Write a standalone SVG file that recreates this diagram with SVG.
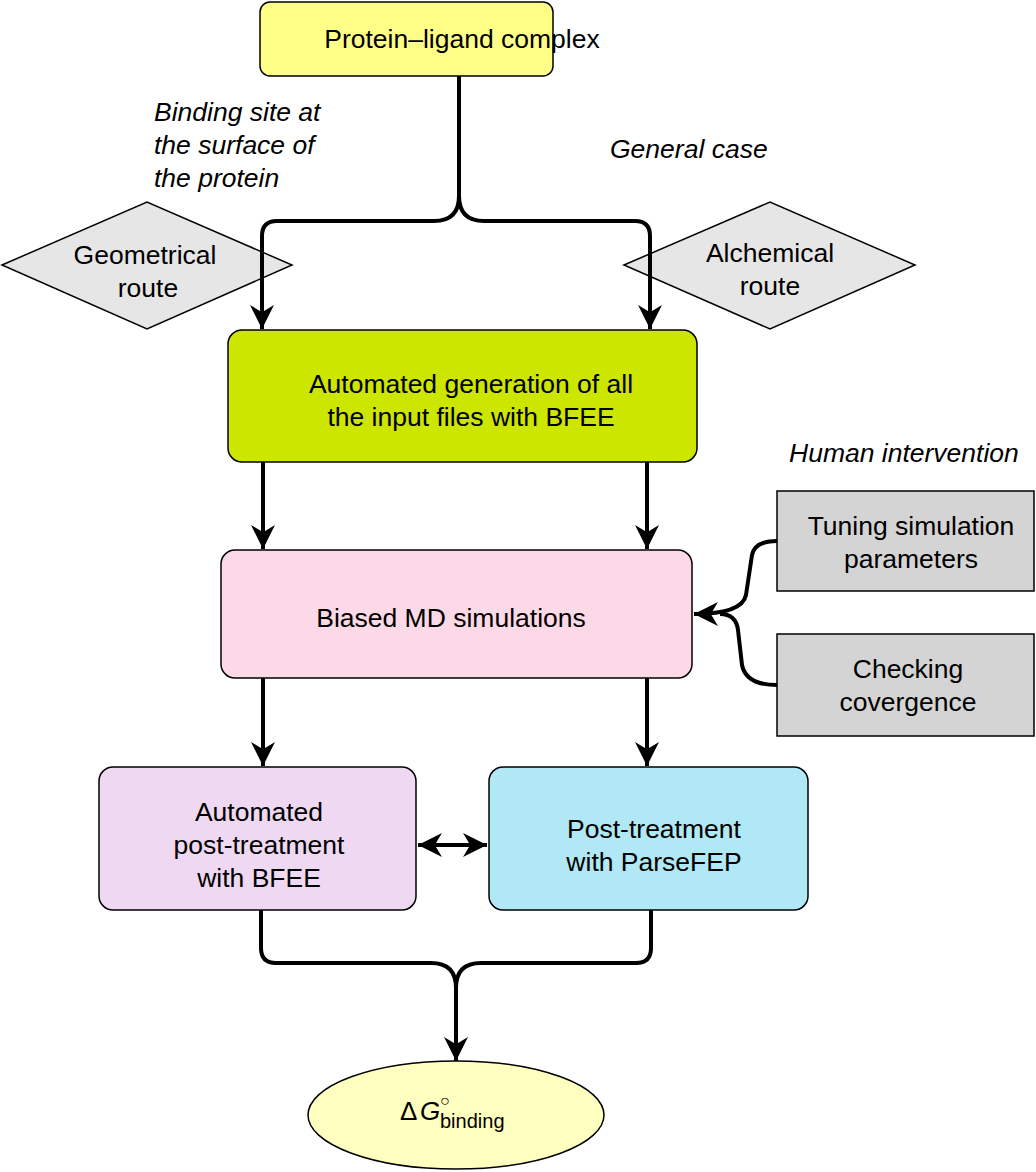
<svg xmlns="http://www.w3.org/2000/svg" width="1036" height="1172" viewBox="0 0 1036 1172">
<style>
.t{font-family:"Liberation Sans",Arial,sans-serif;font-size:26.5px;fill:#000;text-anchor:middle}
.i{font-family:"Liberation Sans",Arial,sans-serif;font-size:26.5px;font-style:italic;fill:#000}
.b{stroke:#000;stroke-width:1.5}
.c{fill:none;stroke:#000;stroke-width:4}
</style>
<defs>
<marker id="a" viewBox="0 0 10 10" refX="10" refY="5" markerWidth="7" markerHeight="6" orient="auto-start-reverse" markerUnits="strokeWidth">
<path d="M0,0 L10,5 L0,10 L3,5 Z" fill="#000"/>
</marker>
</defs>
<rect width="1036" height="1172" fill="#fff"/>
<g id="labels">
<text class="i" x="154" y="121">Binding site at</text>
<text class="i" x="154" y="154">the surface of</text>
<text class="i" x="154" y="187">the protein</text>
<text class="i" x="610" y="158">General case</text>
<text class="i" x="789" y="462">Human intervention</text>
</g>
<g id="n-top"><rect class="b" x="260" y="2" width="293" height="74" rx="10" fill="#ffff88"/><text class="t" x="462" y="48">Protein–ligand complex</text></g>
<g id="n-geo"><polygon class="b" points="2,265 147,202 292,265 147,329" fill="#e6e6e6" stroke-width="1"/><text class="t" x="145" y="264">Geometrical</text><text class="t" x="148" y="297">route</text></g>
<g id="n-alc"><polygon class="b" points="624,265 770,202 915,265 770,329" fill="#e6e6e6" stroke-width="1"/><text class="t" x="770" y="262">Alchemical</text><text class="t" x="770" y="295">route</text></g>
<g id="n-gen"><rect class="b" x="228" y="330" width="469" height="132" rx="14" fill="#cde600"/><text class="t" x="471" y="393">Automated generation of all</text><text class="t" x="471" y="426">the input files with BFEE</text></g>
<g id="n-md"><rect class="b" x="221" y="550" width="471" height="128" rx="14" fill="#fcd9e6"/><text class="t" x="451" y="627">Biased MD simulations</text></g>
<g id="n-tune"><rect class="b" x="777" y="491" width="257" height="100" fill="#d4d4d4" stroke-width="1"/><text class="t" x="911" y="535">Tuning simulation</text><text class="t" x="911" y="568">parameters</text></g>
<g id="n-check"><rect class="b" x="777" y="634" width="257" height="102" fill="#d4d4d4" stroke-width="1"/><text class="t" x="908" y="678">Checking</text><text class="t" x="908" y="711">covergence</text></g>
<g id="n-bfee"><rect class="b" x="99" y="767" width="317" height="143" rx="14" fill="#efd9f2"/><text class="t" x="259" y="821">Automated</text><text class="t" x="259" y="854">post-treatment</text><text class="t" x="259" y="887">with BFEE</text></g>
<g id="n-parse"><rect class="b" x="489" y="767" width="319" height="143" rx="14" fill="#b1e8f5"/><text class="t" x="654" y="838">Post-treatment</text><text class="t" x="654" y="871">with ParseFEP</text></g>
<g id="n-dg"><ellipse class="b" cx="456" cy="1115" rx="148" ry="54" fill="#ffffc0"/>
<text font-family="Liberation Sans,Arial,sans-serif" font-size="26" x="400" y="1120">Δ</text>
<text font-family="Liberation Sans,Arial,sans-serif" font-size="26" font-style="italic" x="420" y="1120">G</text>
<text font-family="Liberation Sans,Arial,sans-serif" font-size="16" x="440" y="1106">○</text>
<text font-family="Liberation Sans,Arial,sans-serif" font-size="20" x="440" y="1128">binding</text></g>
<g id="connectors">
<path class="c" d="M459,76 V196 Q459,221 434,221 H277 Q262,221 262,236 V329" marker-end="url(#a)"/>
<path class="c" d="M459,196 Q459,221 484,221 H635 Q650,221 650,236 V329" marker-end="url(#a)"/>
<path class="c" d="M263,462 V549" marker-end="url(#a)"/>
<path class="c" d="M647,462 V549" marker-end="url(#a)"/>
<path class="c" d="M263,678 V766" marker-end="url(#a)"/>
<path class="c" d="M647,678 V766" marker-end="url(#a)"/>
<path class="c" d="M418,845 H487" marker-start="url(#a)" marker-end="url(#a)"/>
<path class="c" d="M777,541 Q755,541 752,555 L746,595 Q742,614 694,614" marker-end="url(#a)"/>
<path class="c" d="M777,685 Q746,685 742,665 L738,630 Q736,614 720,614"/>
<path class="c" d="M261,910 V948 Q261,963 276,963 H431 Q456,963 456,988 V1061" marker-end="url(#a)"/>
<path class="c" d="M651,910 V948 Q651,963 636,963 H481 Q456,963 456,988"/>
</g>
</svg>
